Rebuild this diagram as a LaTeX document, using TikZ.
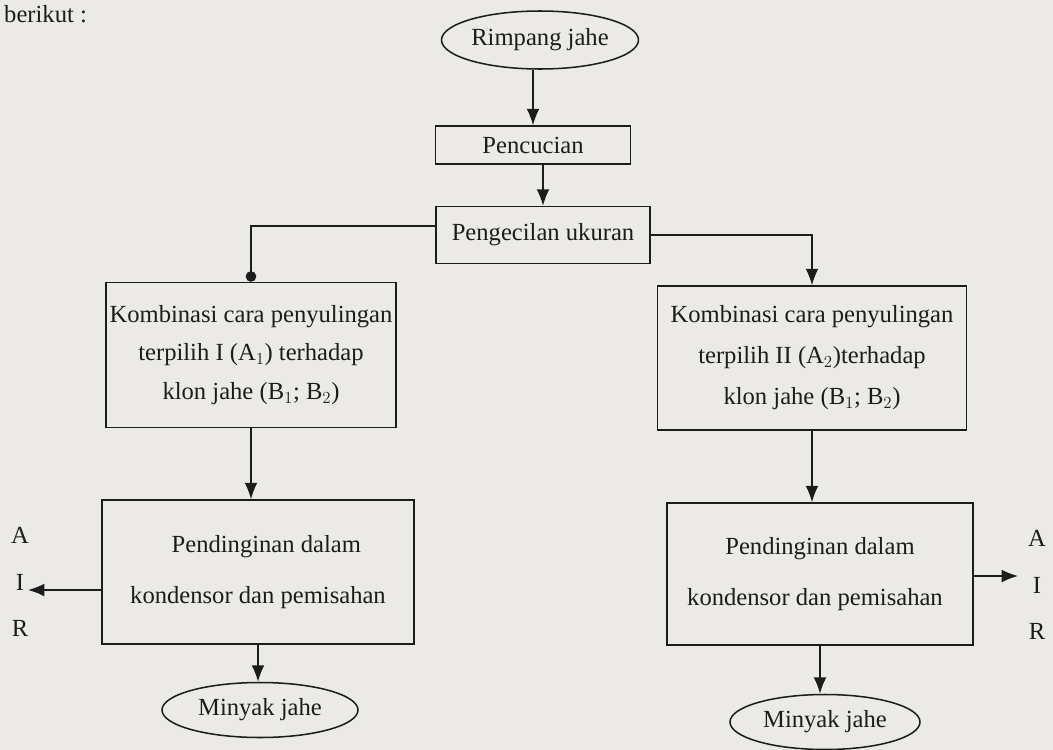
\documentclass[tikz,border=0pt]{standalone}
\usepackage{fontspec}
\setmainfont{Liberation Serif}
\usepackage{xcolor}
\usepackage{tikz}
\usetikzlibrary{shapes.geometric, arrows.meta, positioning, calc}

\definecolor{paper}{HTML}{EBEAE7}
\definecolor{ink}{HTML}{1C1C1C}

\tikzset{
  every node/.style={text=ink, font=\fontsize{21}{32}\selectfont},
  prosesbox/.style={draw=ink, line width=1.3pt, rectangle, align=center, inner sep=0pt},
  hasil/.style={draw=ink, line width=1.3pt, ellipse, inner sep=0pt},
  alur/.style={draw=ink, line width=1.3pt, -{Latex[length=14pt,width=11pt]}},
}

\begin{document}
\begin{tikzpicture}[x=0.03cm, y=-0.03cm]
  % Page and background
  \clip (0,0) rectangle (1053,750);
  \fill[paper] (0,0) rectangle (1053,750);

  % Text line above the chart
  \node[anchor=base west, inner sep=0pt] (teks) at (4,22) {berikut :};

  % Main chain
  \node[hasil, minimum width=5.91cm, minimum height=1.74cm] (rimpang) at (540,40) {Rimpang jahe};
  \node[prosesbox, minimum width=5.85cm, minimum height=1.14cm] (cuci) at (533,145) {Pencucian};
  \node[prosesbox, minimum width=6.42cm, minimum height=1.71cm] (kecil) at (543,235) {Pengecilan ukuran};

  % Left branch (A1)
  \node[prosesbox, minimum width=8.7cm, minimum height=4.35cm, font=\fontsize{21}{33}\selectfont] (kombA) at (251,355)
    {Kombinasi cara penyulingan\\terpilih I (A$_1$) terhadap\\klon jahe (B$_1$; B$_2$)};
  \node[prosesbox, minimum width=9.36cm, minimum height=4.32cm, font=\fontsize{21}{44}\selectfont] (dinginA) at (258,572)
    {\hspace*{0.5cm}Pendinginan dalam\\kondensor dan pemisahan};
  \node[hasil, minimum width=5.88cm, minimum height=1.65cm] (minyakA) at (260,710) {Minyak jahe};
  \node[align=center, font=\fontsize{21}{40}\selectfont] (airA) at (20,582) {A\\I\\R};
  \coordinate (keluarA) at (28,590);

  % Right branch (A2)
  \node[prosesbox, minimum width=9.27cm, minimum height=4.32cm, font=\fontsize{21}{35}\selectfont] (kombB) at (812,358)
    {Kombinasi cara penyulingan\\terpilih II (A$_2$)terhadap\\klon jahe (B$_1$; B$_2$)};
  \node[prosesbox, minimum width=9.18cm, minimum height=4.26cm, font=\fontsize{21}{44}\selectfont] (dinginB) at (820,574)
    {Pendinginan dalam\\kondensor dan pemisahan\hspace*{0.3cm}};
  \node[hasil, minimum width=5.7cm, minimum height=1.65cm] (minyakB) at (825,722) {Minyak jahe};
  \node[align=center, font=\fontsize{21}{40}\selectfont] (airB) at (1037,585) {A\\I\\R};
  \coordinate (keluarB) at (1018,576);

  % Connectors
  \draw[alur] (cuci.north |- rimpang.south) -- (cuci.north);
  \draw[alur] (cuci.south -| kecil.north) -- (kecil);
  \draw[draw=ink, line width=1.3pt, -{Circle[length=9pt]}] ([yshift=0.27cm]kecil.west) -| (kombA.north);
  \draw[alur] (kecil.east) -| (kombB.north);
  \draw[alur] (kombA.south) -- (kombA.south |- dinginA.north);
  \draw[alur] (kombB.south) -- (kombB.south |- dinginB.north);
  \draw[alur] (dinginA.south) -- (dinginA.south |- minyakA.north);
  \draw[alur] (dinginB.south) -- (dinginB.south |- minyakB.north);
  \draw[alur] (dinginA.west |- keluarA) -- (keluarA);
  \draw[alur] (dinginB.east |- keluarB) -- (keluarB);
\end{tikzpicture}
\end{document}
